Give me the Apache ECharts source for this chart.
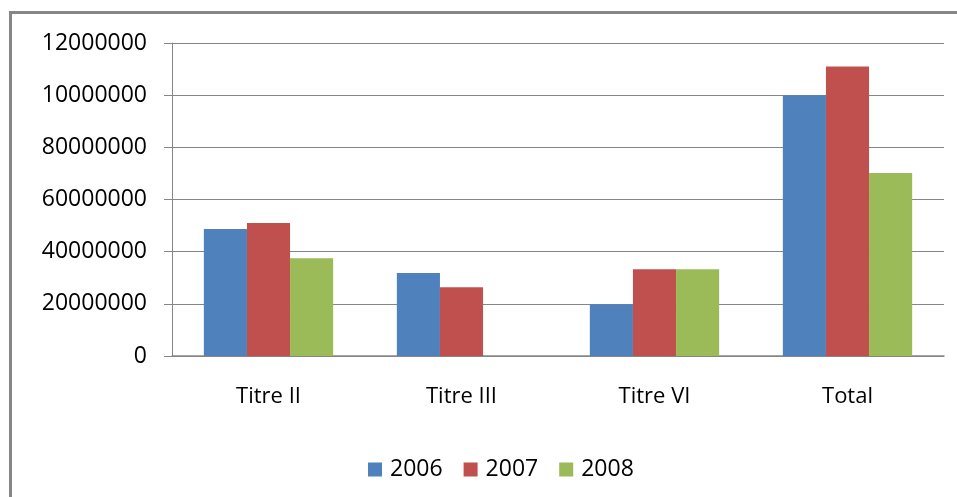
<!DOCTYPE html>
<html>
<head>
<meta charset="utf-8">
<script src="https://cdn.jsdelivr.net/npm/echarts@6/dist/echarts.min.js"></script>
<style>
  html, body { margin: 0; padding: 0; background: #fff; }
  #chart { width: 957px; height: 497px; }
</style>
</head>
<body>
<div id="chart"></div>
<script>
var categories = ["Titre II", "Titre III", "Titre VI", "Total"];
var values2006 = [48700000, 31800000, 19800000, 100000000];
var values2007 = [51000000, 26400000, 33300000, 111000000];
var values2008 = [37500000, 0, 33300000, 70200000];
// the labels as printed in the original (the two top ones are cut short)
var yTickLabels = ["0", "20000000", "40000000", "60000000", "80000000", "10000000", "12000000"];

var gray = "#868686";
var font = "Open Sans";

var chart = echarts.init(document.getElementById("chart"));

var option = {
  animation: false,
  backgroundColor: "#fff",
  color: ["#4F81BD", "#C0504D", "#9BBB59"],
  textStyle: { fontFamily: font },
  graphic: [
    {
      type: "line",
      shape: { x1: 10.5, y1: 12, x2: 10.5, y2: 497 },
      style: { stroke: gray, lineWidth: 3 }
    },
    {
      type: "line",
      shape: { x1: 9, y1: 12.5, x2: 957, y2: 12.5 },
      style: { stroke: gray, lineWidth: 3 }
    }
  ],
  grid: {
    left: 172,
    right: 13,
    top: 43,
    bottom: 141
  },
  legend: {
    top: 453,
    left: 363,
    icon: "rect",
    itemWidth: 14,
    itemHeight: 14,
    itemGap: 21,
    textStyle: { fontFamily: font, fontSize: 23, color: "#000", padding: [0, 0, 0, 3] },
    data: ["2006", "2007", "2008"]
  },
  xAxis: {
    type: "category",
    data: categories,
    axisLine: { lineStyle: { color: gray, width: 1.5 } },
    axisTick: { length: 9, lineStyle: { color: gray } },
    axisLabel: { margin: 30, fontFamily: font, fontSize: 22, color: "#000" }
  },
  yAxis: {
    type: "value",
    min: 0,
    max: 120000000,
    interval: 20000000,
    axisLine: { show: true, lineStyle: { color: gray } },
    axisTick: { show: true, length: 8, lineStyle: { color: gray } },
    splitLine: { lineStyle: { color: gray, width: 1 } },
    axisLabel: {
      margin: 25,
      fontFamily: font,
      fontSize: 23,
      color: "#000",
      formatter: function (value) {
        return yTickLabels[Math.round(value / 20000000)];
      }
    }
  },
  series: [
    { name: "2006", type: "bar", data: values2006, barGap: 0, barCategoryGap: "33%" },
    { name: "2007", type: "bar", data: values2007, barGap: 0, barCategoryGap: "33%" },
    { name: "2008", type: "bar", data: values2008, barGap: 0, barCategoryGap: "33%" }
  ]
};

chart.setOption(option);
</script>
</body>
</html>
